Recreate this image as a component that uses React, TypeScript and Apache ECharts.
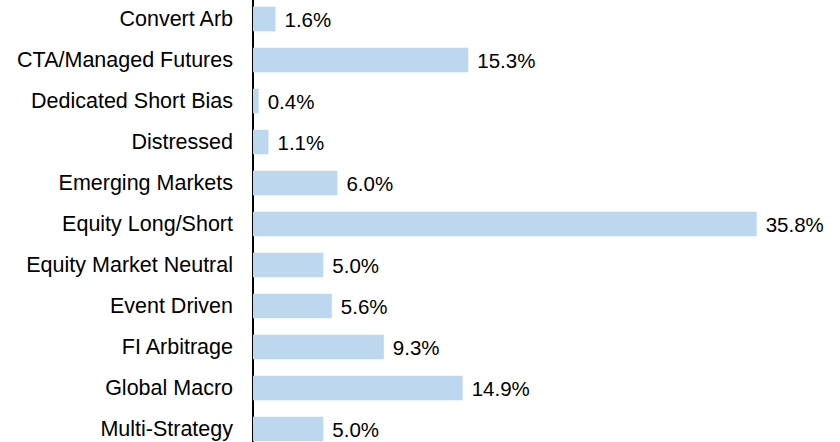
import React, { useEffect, useRef } from "react";
import * as echarts from "echarts";

const categories = [
  "Convert Arb",
  "CTA/Managed Futures",
  "Dedicated Short Bias",
  "Distressed",
  "Emerging Markets",
  "Equity Long/Short",
  "Equity Market Neutral",
  "Event Driven",
  "FI Arbitrage",
  "Global Macro",
  "Multi-Strategy",
];
const values = [1.6, 15.3, 0.4, 1.1, 6.0, 35.8, 5.0, 5.6, 9.3, 14.9, 5.0];

const FONT = "'Liberation Sans', Arial, sans-serif";

export default function App() {
  const ref = useRef<HTMLDivElement>(null);
  useEffect(() => {
    if (!ref.current) return;
    const chart = echarts.init(ref.current, undefined, { renderer: "svg" });
    chart.setOption({
      animation: false,
      backgroundColor: "#ffffff",
      grid: { left: 253, right: 24.2, top: 8.5, bottom: 0.5, containLabel: false },
      xAxis: {
        type: "value",
        min: 0,
        max: 40,
        show: false,
      },
      yAxis: {
        type: "category",
        data: categories,
        inverse: true,
        axisLine: { show: true, lineStyle: { color: "#000000", width: 2 } },
        axisTick: { show: false },
        axisLabel: {
          color: "#000000",
          fontFamily: FONT,
          fontSize: 21.5,
          margin: 20,
        },
      },
      series: [
        {
          type: "bar",
          data: values,
          barCategoryGap: "40%",
          itemStyle: { color: "#BDD7EE" },
          label: {
            show: true,
            position: "right",
            distance: 9,
            color: "#000000",
            fontFamily: FONT,
            fontSize: 20.5,
            formatter: (p: any) => p.value.toFixed(1) + "%",
          },
        },
      ],
    });
    return () => chart.dispose();
  }, []);
  return (
    <div style={{ position: "fixed", left: 0, top: 0, width: 840, height: 442, overflow: "hidden", background: "#fff" }}>
      <div ref={ref} style={{ position: "absolute", left: 0, top: -10, width: 840, height: 460 }} />
    </div>
  );
}
